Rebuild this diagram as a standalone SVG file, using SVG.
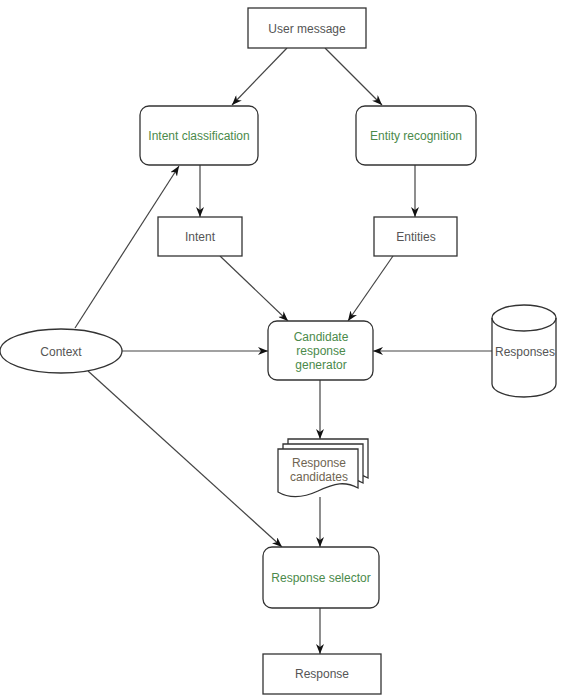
<svg xmlns="http://www.w3.org/2000/svg" width="562" height="700" viewBox="0 0 562 700">
<style>
.box{fill:#fff;stroke:#333;stroke-width:1.3}
.t{font-family:"Liberation Sans",Arial,sans-serif;font-size:12px;text-anchor:middle;dominant-baseline:central}
.g{fill:#4b8a4b}
.k{fill:#555}
.b{fill:#6f6552}
.c{fill:none;stroke:#444;stroke-width:1.2;marker-end:url(#arr)}
</style>
<defs>
<marker id="arr" markerUnits="userSpaceOnUse" markerWidth="10" markerHeight="8" refX="10" refY="4" orient="auto">
<path d="M0,0 L10,4 L0,8 L3,4 Z" fill="#111"/>
</marker>
</defs>
<rect width="562" height="700" fill="#fff"/>
<g id="connectors">
<line class="c" x1="287" y1="48" x2="232" y2="105"/>
<line class="c" x1="325" y1="48" x2="382" y2="105"/>
<line class="c" x1="200" y1="165" x2="200" y2="217"/>
<line class="c" x1="415" y1="165" x2="415" y2="217"/>
<line class="c" x1="220" y1="256" x2="288" y2="321"/>
<line class="c" x1="393" y1="256" x2="348" y2="321"/>
<line class="c" x1="122" y1="351" x2="268" y2="351"/>
<line class="c" x1="492" y1="351" x2="373" y2="351"/>
<line class="c" x1="75" y1="328" x2="179" y2="166"/>
<line class="c" x1="88" y1="371" x2="282" y2="547"/>
<line class="c" x1="320" y1="380" x2="320" y2="439"/>
<line class="c" x1="320" y1="497" x2="320" y2="547"/>
<line class="c" x1="320" y1="608" x2="320" y2="654"/>
</g>
<g id="user-message">
<rect class="box" x="248" y="8" width="118" height="40"/>
<text class="t k" x="307" y="29">User message</text>
</g>
<g id="intent-classification">
<rect class="box" x="140" y="106" width="118" height="59" rx="9"/>
<text class="t g" x="199" y="136">Intent classification</text>
</g>
<g id="entity-recognition">
<rect class="box" x="356" y="106" width="120" height="59" rx="9"/>
<text class="t g" x="416" y="136">Entity recognition</text>
</g>
<g id="intent">
<rect class="box" x="158" y="217" width="84" height="39"/>
<text class="t k" x="200" y="237">Intent</text>
</g>
<g id="entities">
<rect class="box" x="374" y="217" width="83" height="39"/>
<text class="t k" x="416" y="237">Entities</text>
</g>
<g id="context">
<ellipse class="box" cx="61" cy="351" rx="61" ry="22"/>
<text class="t k" x="61" y="352">Context</text>
</g>
<g id="candidate-response-generator">
<rect class="box" x="268" y="321" width="105" height="59" rx="9"/>
<text class="t g" x="321" y="337">Candidate</text>
<text class="t g" x="321" y="351">response</text>
<text class="t g" x="321" y="365">generator</text>
</g>
<g id="responses">
<path class="box" d="M492,318 a32,13 0 0,1 64,0 v66 a32,13 0 0,1 -64,0 Z"/>
<path class="box" style="fill:none" d="M492,318 a32,13 0 0,0 64,0"/>
<text class="t k" x="525" y="352">Responses</text>
</g>
<g id="response-candidates">
<path class="box" d="M288,439 H368 V478 C355,471 345,473 328,481 C315,487 300,489 288,482 Z"/>
<path class="box" d="M283,444 H363 V483 C350,476 340,478 323,486 C310,492 295,494 283,487 Z"/>
<path class="box" d="M278,449 H358 V488 C345,481 335,483 318,491 C305,497 290,499 278,492 Z"/>
<text class="t b" x="319" y="463">Response</text>
<text class="t b" x="319" y="477">candidates</text>
</g>
<g id="response-selector">
<rect class="box" x="263" y="547" width="116" height="61" rx="9"/>
<text class="t g" x="321" y="578">Response selector</text>
</g>
<g id="response">
<rect class="box" x="263" y="654" width="118" height="40"/>
<text class="t k" x="322" y="674">Response</text>
</g>
</svg>
